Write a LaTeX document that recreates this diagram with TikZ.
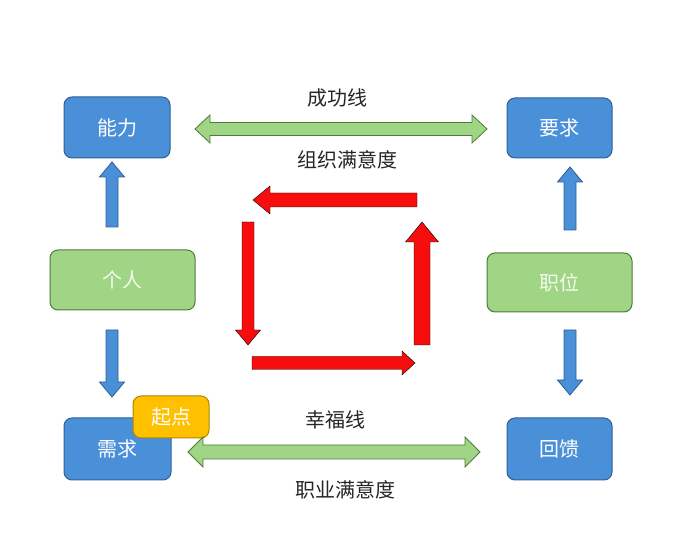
\documentclass[tikz,border=0pt]{standalone}
\usepackage{fontspec}
\setmainfont{Noto Sans CJK SC}
\usepackage{tikz}
\usetikzlibrary{calc, positioning}

\definecolor{boxblue}{HTML}{4A90D9}
\definecolor{lineblue}{HTML}{2F5F93}
\definecolor{boxgreen}{HTML}{9FD584}
\definecolor{linegreen}{HTML}{4F7A3A}
\definecolor{boxyellow}{HTML}{FFC000}
\definecolor{lineyellow}{HTML}{B08600}
\definecolor{arrowred}{HTML}{F70D0D}

\tikzset{
  labeltext/.style={font=\fontsize{20pt}{24pt}\selectfont, text=black!85},
  boxbase/.style={rounded corners=8pt, inner sep=0pt, outer sep=0pt, line width=1pt,
    font=\fontsize{20pt}{24pt}\selectfont},
  bluebox/.style={boxbase, draw=lineblue, fill=boxblue, text=white},
  greenbox/.style={boxbase, draw=linegreen, fill=boxgreen, text=white!88!boxgreen},
  yellowbox/.style={boxbase, draw=lineyellow, fill=boxyellow, text=white},
  bluearrow/.style={draw=lineblue, fill=boxblue, line width=0.8pt},
  greenarrow/.style={draw=linegreen, fill=boxgreen, line width=0.8pt},
  redarrow/.style={fill=arrowred}
}

% [style]{from}{to}{half shaft}{half head}{head length}
\newcommand{\fatarrow}[6][]{%
  \coordinate (faC) at ($(#3)!#6!(#2)$);
  \draw[#1] ($(#2)!#4!90:(#3)$) -- ($(faC)!#4!90:(#3)$) -- ($(faC)!#5!90:(#3)$) -- (#3)
    -- ($(faC)!#5!-90:(#3)$) -- ($(faC)!#4!-90:(#3)$) -- ($(#2)!#4!-90:(#3)$) -- cycle;}
\newcommand{\fatdouble}[6][]{%
  \coordinate (fdA) at ($(#2)!#6!(#3)$);
  \coordinate (fdB) at ($(#3)!#6!(#2)$);
  \draw[#1] (#2) -- ($(fdA)!#5!90:(#3)$) -- ($(fdA)!#4!90:(#3)$) -- ($(fdB)!#4!90:(#3)$)
    -- ($(fdB)!#5!90:(#3)$) -- (#3) -- ($(fdB)!#5!-90:(#3)$) -- ($(fdB)!#4!-90:(#3)$)
    -- ($(fdA)!#4!-90:(#3)$) -- ($(fdA)!#5!-90:(#3)$) -- cycle;}

\begin{document}
\begin{tikzpicture}[x=1pt, y=1pt]
  \useasboundingbox (0, 0) rectangle (700, 556);

  \node[bluebox, minimum width=106pt, minimum height=61pt] at (117, 428.5) (neng) {能力};
  \node[bluebox, minimum width=105pt, minimum height=60pt] at (559.5, 428) (yaoqiu) {要求};
  \node[greenbox, minimum width=145pt, minimum height=60pt] at (122.5, 276) (ren) {个人};
  \node[greenbox, minimum width=145pt, minimum height=59pt] at (559.5, 273.5) (zhiwei) {职位};
  \node[bluebox, minimum width=107pt, minimum height=62pt] at (117.5, 107) (xuqiu) {需求};
  \node[bluebox, minimum width=105pt, minimum height=62pt] at (559.5, 107) (huikui) {回馈};
  \node[yellowbox, minimum width=76pt, minimum height=42pt] at (171, 139) (qidian) {起点};

  % blue arrows
  \coordinate (renup) at ([xshift=-10.5pt, yshift=23pt]ren.north);
  \coordinate (nengin) at ([xshift=-5pt, yshift=-4pt]neng.south);
  \coordinate (rendown) at ([xshift=-10.5pt, yshift=-20pt]ren.south);
  \coordinate (xuqiuin) at ([xshift=-5.5pt, yshift=21pt]xuqiu.north);
  \coordinate (zhiweiup) at ([xshift=10.5pt, yshift=23pt]zhiwei.north);
  \coordinate (yaoqiuin) at ([xshift=10.5pt, yshift=-9pt]yaoqiu.south);
  \coordinate (zhiweidown) at ([xshift=10.5pt, yshift=-18pt]zhiwei.south);
  \coordinate (huikuiin) at ([xshift=10.5pt, yshift=23pt]huikui.north);
  \fatarrow[bluearrow]{renup}{nengin}{6pt}{12.5pt}{15pt}
  \fatarrow[bluearrow]{rendown}{xuqiuin}{6pt}{12.5pt}{15pt}
  \fatarrow[bluearrow]{zhiweiup}{yaoqiuin}{6pt}{12.5pt}{15pt}
  \fatarrow[bluearrow]{zhiweidown}{huikuiin}{6pt}{12.5pt}{15pt}

  % green lines
  \coordinate (topl) at ([xshift=25pt, yshift=-1.5pt]neng.east);
  \coordinate (topr) at ([xshift=-20pt, yshift=-1pt]yaoqiu.west);
  \coordinate (botl) at ([xshift=17pt, yshift=-3pt]xuqiu.east);
  \coordinate (botr) at ([xshift=-27pt, yshift=-3pt]huikui.west);
  \fatdouble[greenarrow]{topl}{topr}{6.5pt}{14pt}{15pt}
  \fatdouble[greenarrow]{botl}{botr}{7pt}{15pt}{15pt}

  \node[labeltext] at (337, 458) (success) {成功线};
  \node[labeltext] at (347, 396) (orgsat) {组织满意度};
  \node[labeltext] at (335, 136) (happy) {幸福线};
  \node[labeltext] at (345, 66) (jobsat) {职业满意度};

  % red cycle
  \coordinate (rt1) at (417, 356);
  \coordinate (rt2) at (253, 356);
  \coordinate (rl1) at (248, 334);
  \coordinate (rl2) at (248, 211);
  \coordinate (rb1) at (252, 193);
  \coordinate (rb2) at (415, 193);
  \coordinate (rr1) at (422, 211);
  \coordinate (rr2) at (422, 334);
  \fatarrow[redarrow]{rt1}{rt2}{7pt}{14pt}{17pt}
  \fatarrow[redarrow]{rl1}{rl2}{6pt}{12.5pt}{15pt}
  \fatarrow[redarrow]{rb1}{rb2}{6.5pt}{12pt}{13pt}
  \fatarrow[redarrow]{rr1}{rr2}{8pt}{16.5pt}{20pt}
\end{tikzpicture}
\end{document}
